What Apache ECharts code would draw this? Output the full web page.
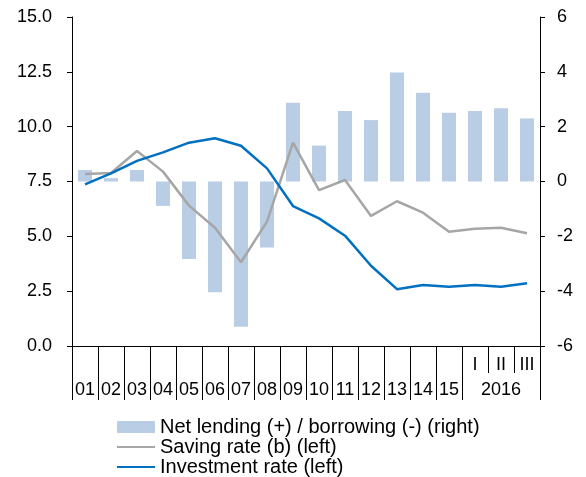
<!DOCTYPE html>
<html>
<head>
<meta charset="utf-8">
<script src="https://cdn.jsdelivr.net/npm/echarts@6/dist/echarts.min.js"></script>
<style>
    html, body { margin: 0; padding: 0; background: #fff; }
    #chart { width: 586px; height: 477px; }
</style>
</head>
<body>
<div id="chart"></div>
<script>
// categories: upper row (quarters) and lower row (years)
const quarterLabels = ['', '', '', '', '', '', '', '', '', '', '', '', '', '', '', 'I', 'II', 'III'];
const yearLabels = ['01', '02', '03', '04', '05', '06', '07', '08', '09', '10', '11', '12', '13', '14', '15', '', '2016', ''];

// series values
const netLending = [0.42, 0.12, 0.42, -0.89, -2.83, -4.04, -5.3, -2.41, 2.87, 1.31, 2.57, 2.24, 3.98, 3.24, 2.51, 2.57, 2.67, 2.30];
const savingRate = [7.84, 7.89, 8.89, 7.95, 6.40, 5.39, 3.82, 5.67, 9.27, 7.11, 7.57, 5.93, 6.60, 6.08, 5.21, 5.35, 5.39, 5.14];
const investmentRate = [7.37, 7.87, 8.44, 8.83, 9.27, 9.47, 9.13, 8.10, 6.38, 5.82, 5.03, 3.66, 2.59, 2.78, 2.70, 2.78, 2.70, 2.86];

const seriesNames = ['Net lending (+) / borrowing (-) (right)', 'Saving rate (b) (left)', 'Investment rate (left)'];

const font = 'Arial, "Liberation Sans", sans-serif';

let chart = echarts.init(document.getElementById('chart'));
let option = {
    animation: false,
    textStyle: { fontFamily: font },
    grid: { left: 72, right: 46, top: 17, bottom: 131 },
    legend: {
        orient: 'vertical',
        left: 116,
        top: 417,
        padding: 0,
        itemGap: 0,
        itemWidth: 38,
        itemHeight: 12,
        textStyle: { fontSize: 20, lineHeight: 19, color: '#000', fontFamily: font },
        data: [
            { name: seriesNames[0], icon: 'rect' },
            { name: seriesNames[1], itemStyle: { opacity: 0 } }, // hide the dot, keep the line
            { name: seriesNames[2], itemStyle: { opacity: 0 } }
        ]
    },
    xAxis: [{
        type: 'category',
        position: 'bottom',
        data: quarterLabels,
        axisLine: { show: true, onZero: false, lineStyle: { color: '#000', width: 1 } },
        axisTick: { show: true, interval: 0, length: 27, lineStyle: { color: '#000' } },
        axisLabel: { interval: 0, margin: 10, fontSize: 18, color: '#000' }
    }, {
        type: 'category',
        position: 'bottom',
        data: yearLabels,
        axisLine: { show: false, onZero: false },
        axisTick: {
            show: true,
            length: 54,
            lineStyle: { color: '#000' },
            interval: function (index) { return index <= 15; } // no ticks inside 2016
        },
        axisLabel: { interval: 0, margin: 35, fontSize: 18, color: '#000' }
    }],
    yAxis: [{
        type: 'value',
        min: 0,
        max: 15,
        interval: 2.5,
        axisLine: { show: true, lineStyle: { color: '#000', width: 1 } },
        axisTick: { show: true, length: 5, lineStyle: { color: '#000' } },
        splitLine: { show: false },
        axisLabel: { fontSize: 18, color: '#000', margin: 20, formatter: v => v.toFixed(1) }
    }, {
        type: 'value',
        position: 'right',
        min: -6,
        max: 6,
        interval: 2,
        axisLine: { show: true, lineStyle: { color: '#000', width: 1 } },
        axisTick: { show: true, length: 5, lineStyle: { color: '#000' } },
        splitLine: { show: false },
        axisLabel: { fontSize: 18, color: '#000', margin: 17 }
    }],
    series: [{
        name: seriesNames[0],
        type: 'bar',
        xAxisIndex: 0,
        yAxisIndex: 1,
        barWidth: 14,
        itemStyle: { color: '#b9cde5' },
        data: netLending
    }, {
        name: seriesNames[1],
        type: 'line',
        xAxisIndex: 0,
        yAxisIndex: 0,
        symbol: 'none',
        lineStyle: { color: '#a6a6a6', width: 2.5 },
        itemStyle: { color: '#a6a6a6' },
        data: savingRate
    }, {
        name: seriesNames[2],
        type: 'line',
        xAxisIndex: 0,
        yAxisIndex: 0,
        symbol: 'none',
        lineStyle: { color: '#0070c0', width: 2.5 },
        itemStyle: { color: '#0070c0' },
        data: investmentRate
    }]
};
chart.setOption(option);
</script>
</body>
</html>
